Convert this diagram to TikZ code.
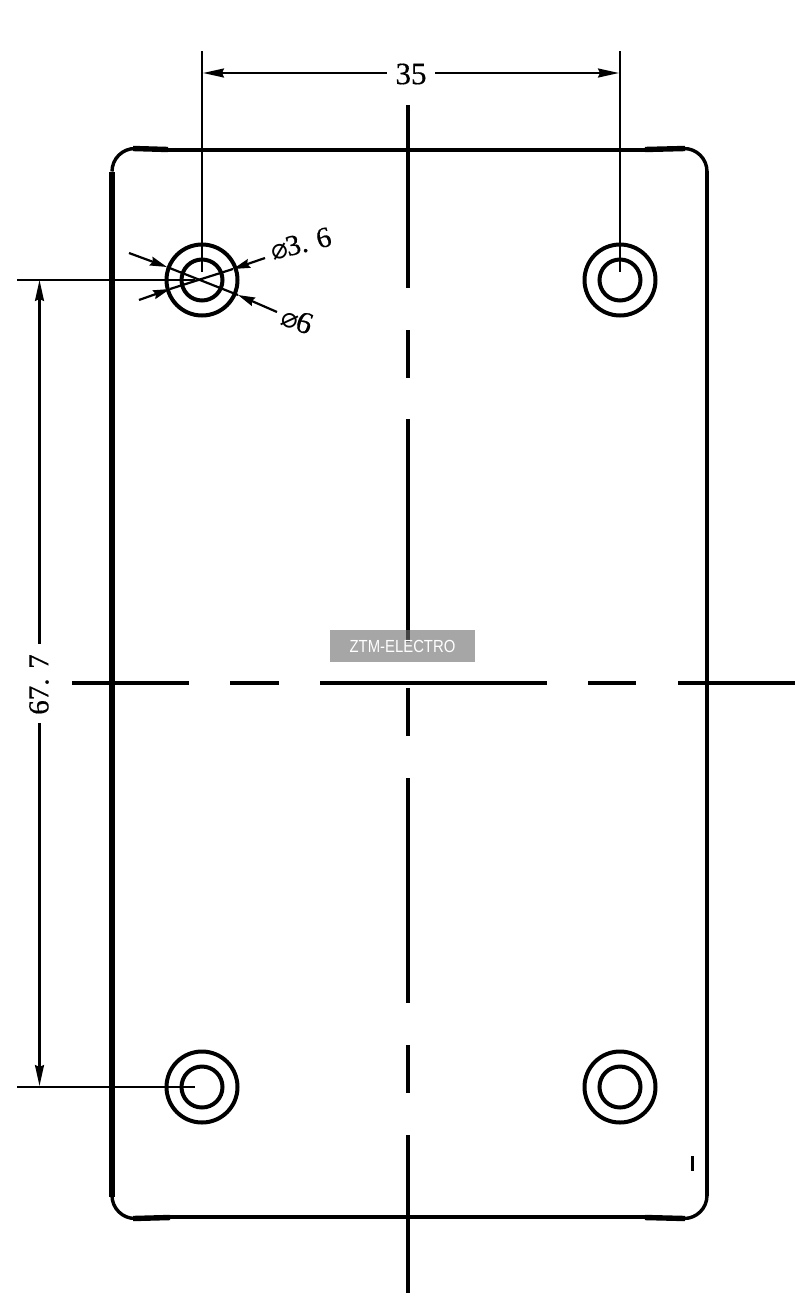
\documentclass[tikz,border=0pt]{standalone}
\usepackage{fontspec}
\setmainfont{Liberation Serif}
\newfontfamily\dimfont[FakeBold=0.5]{Liberation Serif}
\newfontfamily\wmfont[FakeStretch=0.85]{Liberation Sans}
\newfontfamily\symfont{DejaVu Sans}
\usetikzlibrary{arrows.meta}
\tikzset{
  x=1pt,y=-1pt,
  atip/.tip={Stealth[length=21pt,width=9pt,inset=2pt]},
  edge/.style={line width=4.4pt,black},
  cornerline/.style={line width=3.4pt,black},
  hole/.style={line width=4pt,black,fill=none},
  center/.style={line width=4.2pt,black},
  dim/.style={line width=2.2pt,black},
  ext/.style={line width=2pt,black},
  leader/.style={dim,-{Stealth[length=17pt,width=9pt,inset=2pt]}},
  dimtext/.style={inner sep=0pt,font=\dimfont\fontsize{31}{31}\selectfont},
  wmbox/.style={fill=black!57,fill opacity=.615,minimum width=145pt,minimum height=32pt,inner sep=0pt},
  wmtext/.style={text=white,inner sep=0pt,font=\wmfont\fontsize{17.5}{18}\selectfont}
}
\begin{document}
\begin{tikzpicture}
\useasboundingbox (0,0) rectangle (806,1293);
\coordinate (h1) at (202,280); \coordinate (h2) at (620,280);
\coordinate (h3) at (202,1087); \coordinate (h4) at (620,1087);
% plate outline
\draw[edge] (168,150) -- (645,150);
\draw[edge,line width=5.4pt] (133,148.5) -- (168,149.5);
\draw[edge,line width=5.4pt] (645,149.5) -- (685,148.5);
\draw[edge] (707,171) -- (707,1196);
\draw[edge,line width=6pt] (112,172) -- (112,1197);
\draw[edge] (170,1217) -- (645,1217);
\draw[edge,line width=5.4pt] (133,1218.5) -- (170,1217.5);
\draw[edge,line width=5.4pt] (645,1217.5) -- (685,1218.5);
\draw[cornerline] (135,148.5) arc[start angle=-90,end angle=-180,radius=23];
\draw[cornerline] (684,148.5) arc[start angle=-90,end angle=0,radius=23];
\draw[cornerline] (707,1195.5) arc[start angle=0,end angle=90,radius=23];
\draw[cornerline] (112,1195.5) arc[start angle=180,end angle=90,radius=23];
% centre lines
\draw[center] (408,105) -- (408,288);
\draw[center] (408,330) -- (408,378);
\draw[center] (408,419) -- (408,642);
\draw[center] (408,688) -- (408,736);
\draw[center] (408,778) -- (408,1003);
\draw[center] (408,1045) -- (408,1093);
\draw[center] (408,1135) -- (408,1293);
\draw[center] (72,683) -- (189,683);
\draw[center] (230,683) -- (279,683);
\draw[center] (320,683) -- (547,683);
\draw[center] (588,683) -- (636,683);
\draw[center] (678,683) -- (795,683);
\draw[line width=3pt] (692.5,1156) -- (692.5,1171);
% holes
\foreach \n in {h1,h2,h3,h4}{
  \draw[hole] (\n) circle[radius=35.5];
  \draw[hole] (\n) circle[radius=20.5];
}
% extension lines
\coordinate (e1) at (202,51); \coordinate (e2) at (620,51);
\coordinate (e3) at (17,280); \coordinate (e4) at (17,1087);
\draw[ext] (e1) -- (202,272);
\draw[ext] (e2) -- (620,272);
\draw[ext] (e3) -- (195,280);
\draw[ext] (e4) -- (195,1087);
% 35
\node[dimtext] (d35) at (411,74) {35};
\coordinate (a1) at (203,73); \coordinate (a2) at (619,73);
\draw[dim,atip-] (a1) -- (387,73);
\draw[dim,-atip] (435,73) -- (a2);
% 67.7
\node[dimtext,rotate=90,font=\dimfont\fontsize{29}{29}\selectfont] (d67) at (39,684.5) {67. 7};
\coordinate (a3) at (39.5,280); \coordinate (a4) at (39.5,1086);
\draw[dim,atip-] (a3) -- (39.5,644);
\draw[dim,-atip] (39.5,723) -- (a4);
% diameter leaders
\coordinate (p1) at (129,253); \coordinate (p2) at (277,312);
\coordinate (q1) at (139,300); \coordinate (q2) at (265,258);
\coordinate (p1t) at (167,267); \coordinate (p2t) at (238,295);
\coordinate (q1t) at (170,289); \coordinate (q2t) at (233,269);
\draw[leader] (p1) -- (p1t);
\draw[leader] (p2) -- (p2t);
\draw[leader] (q1) -- (q1t);
\draw[leader] (q2) -- (q2t);
\draw[dim] (p1t) -- (p2t);
\draw[dim] (q1t) -- (q2t);
% labels
\node[dimtext,rotate=14,anchor=west] (d36) at (271,251) {{\symfont\fontsize{28}{28}\selectfont ⌀}\kern-1.5pt{\fontsize{29}{29}\selectfont 3. 6}};
\node[dimtext,rotate=-20,anchor=west] (d6) at (283,315) {{\symfont\fontsize{28}{28}\selectfont ⌀}\kern-2pt 6};
% watermark
\node[wmbox] (wm) at (402.5,646) {};
\node[wmtext] (wmt) at (402.5,646) {ZTM-ELECTRO};
\end{tikzpicture}
\end{document}
